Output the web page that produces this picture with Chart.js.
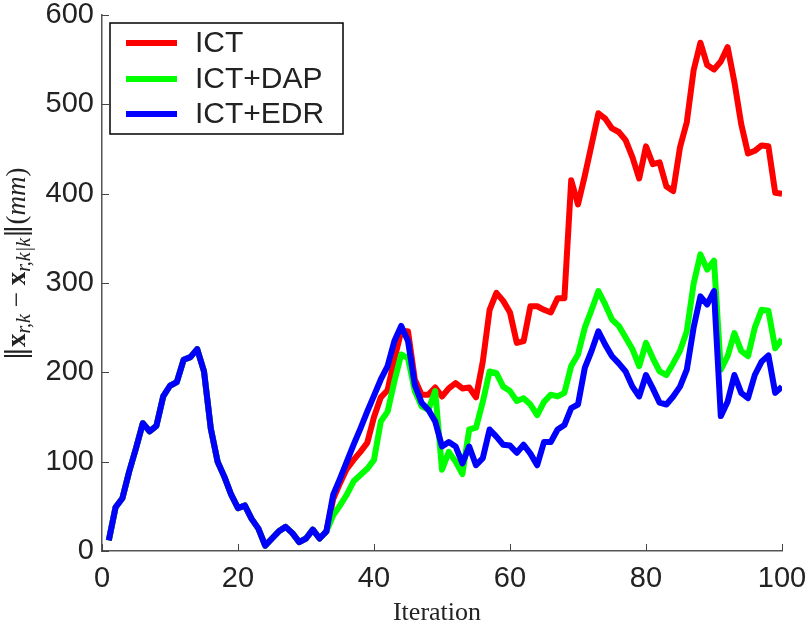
<!DOCTYPE html>
<html lang="en">
<head>
  <meta charset="UTF-8" />
  <title>Error vs Iteration</title>
  <script src="https://cdn.jsdelivr.net/npm/chart.js"></script>
  <style>
    body { margin: 0; background: #fff; }
    #wrap { width: 808px; height: 627px; }
  </style>
</head>
<body>
  <div id="wrap"><canvas id="errChart" width="808" height="627"></canvas></div>

  <script>
    // iteration 1..100
    const iteraciones = Array.from({ length: 100 }, (_, i) => i + 1);

    const ict = [
      12, 49, 59, 89, 115, 143, 134, 140, 173, 185,
      189, 214, 217, 226, 201, 137, 100, 83, 63, 48,
      51, 36, 25, 6, 14, 22, 27, 20, 10, 14,
      24, 14, 22, 58, 76, 92, 102, 111, 121, 150,
      172, 180, 215, 246, 246, 192, 175, 175, 183, 173,
      182, 188, 182, 183, 172, 212, 270, 289, 280, 267,
      233, 235, 274, 274, 270, 267, 283, 283, 415, 388,
      420, 455, 490, 484, 473, 469, 460, 441, 417, 453,
      433, 435, 408, 403, 452, 480, 538, 569, 544, 539,
      548, 564, 525, 478, 445, 448, 454, 453, 401, 400
    ];

    const ictDap = [
      12, 49, 59, 89, 115, 143, 134, 140, 173, 185,
      189, 214, 217, 226, 201, 137, 100, 83, 63, 48,
      51, 36, 25, 6, 14, 22, 27, 20, 10, 14,
      24, 14, 22, 40, 51, 63, 78, 85, 92, 102,
      145, 156, 190, 220, 216, 179, 162, 158, 179, 91,
      111, 100, 86, 136, 138, 167, 201, 199, 184, 179,
      168, 171, 164, 152, 167, 175, 173, 177, 207, 220,
      250, 270, 291, 276, 259, 252, 239, 226, 207, 233,
      216, 201, 197, 210, 224, 246, 299, 332, 315, 325,
      203, 218, 244, 224, 218, 250, 270, 269, 227, 237
    ];

    const ictEdr = [
      12, 49, 59, 89, 115, 143, 134, 140, 173, 185,
      189, 214, 217, 226, 201, 137, 100, 83, 63, 48,
      51, 36, 25, 6, 14, 22, 27, 20, 10, 14,
      24, 14, 22, 63, 81, 100, 119, 137, 156, 174,
      192, 207, 235, 252, 235, 186, 166, 158, 145, 117,
      122, 117, 98, 117, 96, 104, 136, 128, 119, 118,
      110, 119, 109, 96, 122, 122, 136, 141, 160, 164,
      205, 224, 246, 231, 218, 210, 201, 184, 173, 197,
      182, 166, 164, 173, 184, 203, 250, 285, 276, 291,
      151, 167, 197, 177, 171, 197, 212, 219, 177, 184
    ];

    const nombres = ["ICT", "ICT+DAP", "ICT+EDR"];
    const colores = ["#ff0000", "#00ff00", "#0000ff"];
    const ticksX = [0, 20, 40, 60, 80, 100];
    const ticksY = [0, 100, 200, 300, 400, 500, 600];

    const fuenteEjes = '"Liberation Sans", Arial, sans-serif';
    const fuenteSerif = '"Liberation Serif", "DejaVu Serif", serif';

    function puntos(valores) {
      return valores.map((v, i) => ({ x: iteraciones[i], y: v }));
    }

    // marcas de eje hacia dentro, leyenda y titulos
    const extras = {
      id: "extras",
      afterDraw(chart) {
        const ctx = chart.ctx;
        const area = chart.chartArea;
        const sx = chart.scales.x;
        const sy = chart.scales.y;
        ctx.save();

        ctx.strokeStyle = "#444";
        ctx.lineWidth = 1;
        ctx.beginPath();
        ticksX.forEach(t => {
          const px = Math.round(sx.getPixelForValue(t)) + 0.5;
          ctx.moveTo(px, area.bottom);
          ctx.lineTo(px, area.bottom - 7);
        });
        ticksY.forEach(t => {
          const py = Math.round(sy.getPixelForValue(t)) + 0.5;
          ctx.moveTo(area.left, py);
          ctx.lineTo(area.left + 7, py);
        });
        ctx.stroke();

        // leyenda
        const lx = 110, ly = 23, lw = 233, lh = 111;
        ctx.fillStyle = "#fff";
        ctx.fillRect(lx, ly, lw, lh);
        ctx.strokeStyle = "#000";
        ctx.lineWidth = 1.5;
        ctx.strokeRect(lx, ly, lw, lh);
        const filas = [43, 79, 114];
        nombres.forEach((n, i) => {
          ctx.strokeStyle = colores[i];
          ctx.lineWidth = 6;
          ctx.beginPath();
          ctx.moveTo(126, filas[i]);
          ctx.lineTo(177, filas[i]);
          ctx.stroke();
          ctx.fillStyle = "#222";
          ctx.font = "30px " + fuenteEjes;
          ctx.textBaseline = "middle";
          ctx.textAlign = "left";
          ctx.fillText(n, 195, filas[i] + 1);
        });

        // titulo eje x
        ctx.fillStyle = "#222";
        ctx.font = "26px " + fuenteSerif;
        ctx.textAlign = "center";
        ctx.textBaseline = "alphabetic";
        ctx.fillText("Iteration", (area.left + area.right) / 2 - 5, 620);

        // titulo eje y
        const partes = [
          { t: "\u2016", f: "27px \"DejaVu Serif\"", dy: 0 },
          { t: "x", f: "bold 27px " + fuenteSerif, dy: 0 },
          { t: "r,k", f: "italic 20px " + fuenteSerif, dy: 5 },
          { t: " \u2212 ", f: "27px " + fuenteSerif, dy: 0 },
          { t: "x", f: "bold 27px " + fuenteSerif, dy: 0 },
          { t: "r,k|k", f: "italic 20px " + fuenteSerif, dy: 5 },
          { t: "\u2016", f: "27px \"DejaVu Serif\"", dy: 0 },
          { t: "(", f: "27px " + fuenteSerif, dy: 0 },
          { t: "mm", f: "italic 27px " + fuenteSerif, dy: 0 },
          { t: ")", f: "27px " + fuenteSerif, dy: 0 }
        ];
        let total = 0;
        partes.forEach(p => { ctx.font = p.f; p.w = ctx.measureText(p.t).width; total += p.w; });
        ctx.translate(25, 264);
        ctx.rotate(-Math.PI / 2);
        ctx.textAlign = "left";
        let x0 = -total / 2;
        partes.forEach(p => {
          ctx.font = p.f;
          ctx.fillText(p.t, x0, p.dy);
          x0 += p.w;
        });
        ctx.restore();
      }
    };

    const ctx = document.getElementById("errChart").getContext("2d");
    new Chart(ctx, {
      type: "line",
      data: {
        datasets: [
          { label: nombres[0], data: puntos(ict), borderColor: colores[0], order: 2 },
          { label: nombres[1], data: puntos(ictDap), borderColor: colores[1], order: 1 },
          { label: nombres[2], data: puntos(ictEdr), borderColor: colores[2], order: 0 }
        ]
      },
      options: {
        responsive: false,
        animation: false,
        devicePixelRatio: 1,
        layout: { padding: { top: 15, right: 26, left: 0, bottom: 0 } },
        elements: {
          line: { borderWidth: 6, tension: 0, borderJoinStyle: "round", fill: false },
          point: { radius: 0, hoverRadius: 0 }
        },
        scales: {
          x: {
            type: "linear",
            min: 0,
            max: 100,
            afterBuildTicks: s => { s.ticks = ticksX.map(v => ({ value: v })); },
            afterFit: s => { s.height = 76; s.paddingLeft = 0; s.paddingRight = 0; },
            grid: { display: false },
            border: { display: true, color: "#555", width: 1.5 },
            ticks: { color: "#222", font: { family: fuenteEjes, size: 29, lineHeight: 1 }, padding: 5, maxRotation: 0 }
          },
          y: {
            min: 0,
            max: 600,
            afterBuildTicks: s => { s.ticks = ticksY.map(v => ({ value: v })); },
            afterFit: s => { s.width = 102; s.paddingTop = 0; s.paddingBottom = 0; },
            grid: { display: false },
            border: { display: true, color: "#555", width: 1.5 },
            ticks: { color: "#222", font: { family: fuenteEjes, size: 29, lineHeight: 1 }, padding: 0 }
          }
        },
        plugins: {
          legend: { display: false },
          tooltip: { enabled: false }
        }
      },
      plugins: [extras]
    });
  </script>
</body>
</html>
